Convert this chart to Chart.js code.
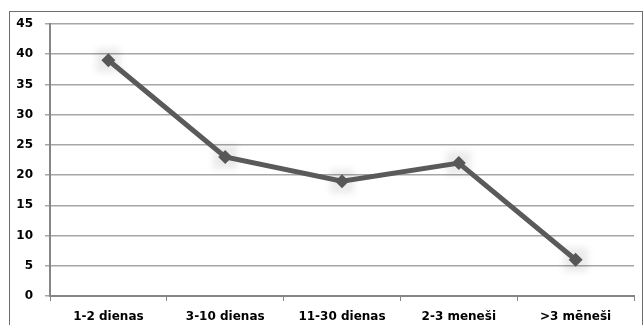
<!DOCTYPE html>
<html>
<head>
<meta charset="utf-8">
<script src="https://cdn.jsdelivr.net/npm/chart.js@4/dist/chart.umd.min.js"></script>
<style>
    html, body { margin: 0; padding: 0; background: #fff; overflow: hidden; }
    .frame {
        position: absolute;
        left: 9px;
        top: 11px;
        width: 632px;
        height: 330px;
        border: 1px solid #6e6e6e;
    }
    canvas { display: block; }
</style>
</head>
<body>
<div class="frame"><canvas id="chart" width="632" height="330"></canvas></div>
<script>
const categories = ['1-2 dienas', '3-10 dienas', '11-30 dienas', '2-3 meneši', '>3 mēneši'];
const values = [39, 23, 19, 22, 6];
const yTicks = [0, 5, 10, 15, 20, 25, 30, 35, 40, 45];

const FONT = { family: 'DejaVu Sans', size: 12, weight: 'bold' };

// soft halo behind each marker
const markerGlow = {
    id: 'markerGlow',
    beforeDatasetsDraw(chart) {
        const { ctx } = chart;
        const meta = chart.getDatasetMeta(0);
        ctx.save();
        ctx.filter = 'blur(3px)';
        ctx.fillStyle = 'rgba(0, 0, 0, 0.08)';
        meta.data.forEach(pt => {
            ctx.fillRect(pt.x - 12, pt.y - 12, 24, 24);
        });
        ctx.restore();
    }
};

new Chart(document.getElementById('chart'), {
    type: 'line',
    data: {
        labels: categories,
        datasets: [{
            data: values,
            borderColor: '#5a5a5a',
            borderWidth: 5,
            backgroundColor: '#575757',
            pointStyle: 'rectRot',
            pointRadius: 7,
            pointBorderWidth: 0,
            tension: 0,
        }],
    },
    options: {
        responsive: false,
        animation: false,
        layout: { padding: { top: 12, right: 8, left: 0, bottom: 0 } },
        plugins: {
            legend: { display: false },
            tooltip: { enabled: false },
        },
        scales: {
            x: {
                offset: true,
                grid: {
                    offset: true,
                    drawOnChartArea: false,
                    tickLength: 5,
                    color: '#868686',
                    lineWidth: 1,
                },
                border: { color: '#868686', width: 2 },
                ticks: {
                    color: '#000',
                    font: FONT,
                    padding: 9,
                    maxRotation: 0,
                },
                afterFit: s => { s.height = 46; },
            },
            y: {
                min: 0,
                max: 45,
                afterBuildTicks: s => { s.ticks = yTicks.map(v => ({ value: v })); },
                grid: {
                    color: '#a6a6a6',
                    lineWidth: 1.5,
                    tickLength: 5,
                },
                border: { color: '#868686', width: 2 },
                ticks: {
                    color: '#000',
                    font: FONT,
                    padding: 12,
                },
                afterFit: s => {
                    s.width = 40;
                    s.paddingTop = 0;
                    s.paddingBottom = 0;
                },
            },
        },
    },
    plugins: [markerGlow],
});
</script>
</body>
</html>
